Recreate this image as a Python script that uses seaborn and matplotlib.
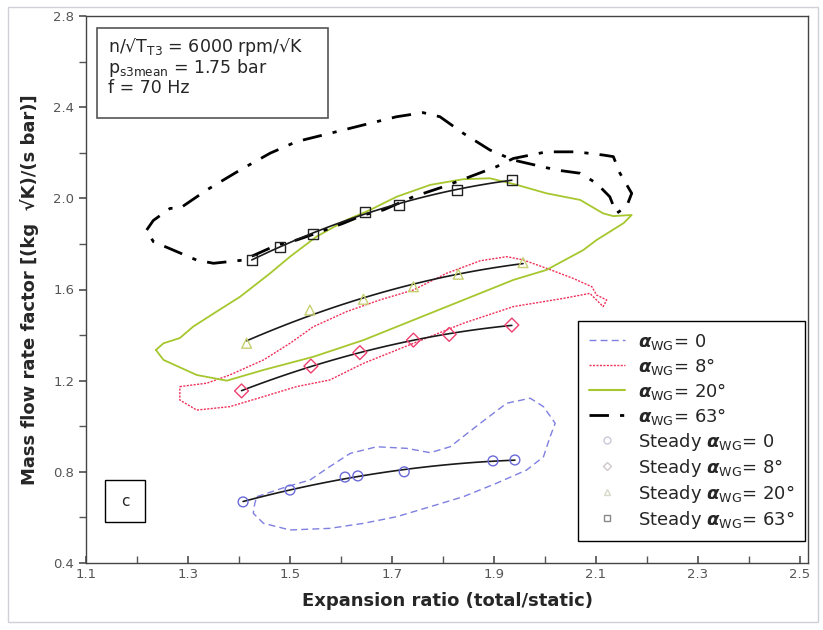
import numpy as np
import pandas as pd
import matplotlib
matplotlib.use("Agg")
import matplotlib.pyplot as plt
from matplotlib.patches import Rectangle
from matplotlib.lines import Line2D
import seaborn as sns

# ---------------- data ----------------
# unsteady loops (alpha_WG)
loop0_x = [1.435, 1.494, 1.539, 1.578, 1.618, 1.670, 1.729, 1.775, 1.814, 1.873, 1.925, 1.971, 1.997,
           2.020, 2.010, 1.997, 1.964, 1.905, 1.840, 1.775, 1.709, 1.644, 1.578, 1.500, 1.448, 1.428, 1.431, 1.435]
loop0_y = [0.691, 0.735, 0.764, 0.823, 0.881, 0.910, 0.903, 0.884, 0.910, 1.013, 1.101, 1.123, 1.086,
           1.013, 0.954, 0.866, 0.808, 0.750, 0.691, 0.647, 0.603, 0.574, 0.552, 0.545, 0.574, 0.618, 0.662, 0.691]

loop8_x = [1.284, 1.337, 1.382, 1.448, 1.500, 1.546, 1.611, 1.676, 1.742, 1.807, 1.873, 1.925, 1.957,
           2.003, 2.055, 2.092, 2.101, 2.121, 2.114, 2.088, 2.036, 1.938, 1.840, 1.742, 1.644, 1.578,
           1.513, 1.448, 1.382, 1.317, 1.284, 1.284]
loop8_y = [1.174, 1.189, 1.225, 1.291, 1.364, 1.437, 1.503, 1.554, 1.598, 1.671, 1.726, 1.744, 1.730,
           1.693, 1.649, 1.612, 1.576, 1.554, 1.525, 1.583, 1.561, 1.525, 1.452, 1.364, 1.276, 1.203,
           1.174, 1.130, 1.086, 1.071, 1.115, 1.174]

loop20_x = [1.237, 1.252, 1.284, 1.310, 1.356, 1.402, 1.461, 1.500, 1.552, 1.611, 1.657, 1.709, 1.775,
            1.840, 1.892, 1.945, 2.003, 2.069, 2.114, 2.134, 2.170, 2.154, 2.101, 2.075, 2.003, 1.938,
            1.840, 1.742, 1.644, 1.546, 1.448, 1.376, 1.317, 1.252, 1.237]
loop20_y = [1.335, 1.364, 1.387, 1.437, 1.503, 1.568, 1.671, 1.744, 1.832, 1.905, 1.949, 2.007, 2.059,
            2.084, 2.088, 2.059, 2.022, 1.993, 1.934, 1.922, 1.927, 1.891, 1.817, 1.773, 1.686, 1.642,
            1.554, 1.466, 1.378, 1.305, 1.247, 1.200, 1.225, 1.291, 1.335]

loop63_x = [1.219, 1.232, 1.265, 1.284, 1.337, 1.402, 1.461, 1.513, 1.578, 1.644, 1.709, 1.761, 1.794,
            1.840, 1.892, 1.938, 2.023, 2.069, 2.101, 2.127, 2.140, 2.160, 2.170, 2.147, 2.134, 2.114,
            2.062, 2.003, 1.938, 1.905, 1.853, 1.801, 1.742, 1.683, 1.644, 1.605, 1.552, 1.513, 1.474,
            1.408, 1.350, 1.317, 1.271, 1.232, 1.219]
loop63_y = [1.861, 1.903, 1.956, 1.956, 2.037, 2.124, 2.198, 2.249, 2.285, 2.322, 2.358, 2.376, 2.358,
            2.285, 2.212, 2.168, 2.124, 2.110, 2.066, 2.007, 1.934, 1.964, 2.022, 2.110, 2.183, 2.190,
            2.204, 2.204, 2.175, 2.139, 2.095, 2.051, 2.007, 1.949, 1.927, 1.891, 1.847, 1.817, 1.795,
            1.729, 1.715, 1.729, 1.773, 1.810, 1.861]

# steady points
steady0_x = [1.408, 1.500, 1.608, 1.633, 1.724, 1.898, 1.941]
steady0_y = [0.668, 0.720, 0.777, 0.782, 0.800, 0.848, 0.852]
steady8_x = [1.405, 1.541, 1.637, 1.742, 1.812, 1.935]
steady8_y = [1.155, 1.264, 1.323, 1.378, 1.403, 1.444]
steady20_x = [1.415, 1.539, 1.644, 1.742, 1.830, 1.957]
steady20_y = [1.364, 1.510, 1.557, 1.612, 1.667, 1.718]
steady63_x = [1.425, 1.480, 1.545, 1.647, 1.714, 1.827, 1.935]
steady63_y = [1.729, 1.788, 1.844, 1.941, 1.971, 2.037, 2.081]

x_ticks = [1.1, 1.3, 1.5, 1.7, 1.9, 2.1, 2.3, 2.5]
y_ticks = [0.4, 0.8, 1.2, 1.6, 2.0, 2.4, 2.8]

# ---------------- plot ----------------
sns.set_theme(style="ticks")
plt.rcParams['font.family'] = ['DejaVu Sans']

fig = plt.figure(figsize=(8.23, 6.30), dpi=100)
ax = fig.add_axes([86/823, 1-563/630, (808-86)/823, (563-16)/630])

loop_styles = [
    (loop0_x, loop0_y, "#7f7fe0", (0, (5, 3)), 1.0),
    (loop8_x, loop8_y, "#f0305a", (0, (1.5, 1)), 1.0),
    (loop20_x, loop20_y, "#a6c72e", "-", 1.3),
    (loop63_x, loop63_y, "black", (0, (7, 4, 1.5, 4)), 2.0),
]
for lx, ly, c, ls, lw in loop_styles:
    df = pd.DataFrame({"x": lx, "y": ly})
    sns.lineplot(data=df, x="x", y="y", sort=False, estimator=None, ax=ax,
                 color=c, linestyle=ls, linewidth=lw)

steady_styles = [
    (steady0_x, steady0_y, "o", "#6a6ad8"),
    (steady8_x, steady8_y, "D", "#ee4070"),
    (steady20_x, steady20_y, "^", "#c8d070"),
    (steady63_x, steady63_y, "s", "#222222"),
]
for sx, sy, m, c in steady_styles:
    coef = np.polyfit(sx, sy, 2)
    fx = np.linspace(min(sx), max(sx), 60)
    fdf = pd.DataFrame({"x": fx, "y": np.polyval(coef, fx)})
    sns.lineplot(data=fdf, x="x", y="y", ax=ax, color="#1a1a1a", linewidth=1.2)
    sdf = pd.DataFrame({"x": sx, "y": sy})
    sns.scatterplot(data=sdf, x="x", y="y", ax=ax, marker=m, s=50,
                    facecolors="none", edgecolors=c, linewidth=1.0, zorder=5)

ax.set_xlim(1.1, 1.1 + (808-86)/510)
ax.set_ylim(0.4, 2.8)
ax.set_xticks(x_ticks)
ax.set_xticklabels([f"{v:.1f}" for v in x_ticks])
ax.set_yticks(y_ticks)
ax.set_yticklabels([f"{v:.1f}" for v in y_ticks])
ax.set_xticks(np.arange(1.2, 2.5, 0.2), minor=True)
ax.set_yticks(np.arange(0.6, 2.8, 0.4), minor=True)
ax.tick_params(axis="both", which="major", labelsize=9.5, labelcolor="#555555", color="#555555")
ax.tick_params(axis="x", which="both", direction="in", length=5)
ax.tick_params(axis="y", which="both", direction="out", length=5)
ax.tick_params(axis="both", which="minor", color="#555555")
for sp in ax.spines.values():
    sp.set_visible(True)
    sp.set_color("#444444")
    sp.set_linewidth(1.0)

ax.set_xlabel("Expansion ratio (total/static)", fontsize=13, fontweight="bold", labelpad=8)
ax.set_ylabel("Mass flow rate factor [(kg  \u221aK)/(s bar)]", fontsize=13, fontweight="bold", labelpad=10)

# info box
ax.add_patch(Rectangle((0.0152, 0.8135), 0.32, 0.1645, transform=ax.transAxes,
                       fill=False, edgecolor="#555555", linewidth=1.2, zorder=6))
ax.text(0.030, 0.943, "n/\u221aT$_{\\mathrm{T3}}$ = 6000 rpm/\u221aK", transform=ax.transAxes,
        fontsize=12.5, va="center", ha="left")
ax.text(0.030, 0.905, "p$_{\\mathrm{s3mean}}$ = 1.75 bar", transform=ax.transAxes,
        fontsize=12.5, va="center", ha="left")
ax.text(0.030, 0.868, "f = 70 Hz", transform=ax.transAxes,
        fontsize=12.5, va="center", ha="left")

# "c" box
ax.add_patch(Rectangle((0.0263, 0.075), 0.0554, 0.0767, transform=ax.transAxes,
                       fill=False, edgecolor="black", linewidth=1.0, zorder=6))
ax.text(0.054, 0.113, "c", transform=ax.transAxes, fontsize=11, va="center", ha="center")

# legend
a = r"$\boldsymbol{\alpha}_{\mathrm{WG}}$"
handles = [
    Line2D([], [], color="#7f7fe0", linestyle=(0, (5, 3)), linewidth=1.0),
    Line2D([], [], color="#f0305a", linestyle=(0, (1.5, 1)), linewidth=1.0),
    Line2D([], [], color="#a6c72e", linestyle="-", linewidth=1.5),
    Line2D([], [], color="black", linestyle=(0, (7, 4, 1.5, 4)), linewidth=2.0),
    Line2D([], [], marker="o", linestyle="none", markerfacecolor="none", markeredgecolor="#c8c8d8", markersize=5),
    Line2D([], [], marker="D", linestyle="none", markerfacecolor="none", markeredgecolor="#d0c8c8", markersize=4),
    Line2D([], [], marker="^", linestyle="none", markerfacecolor="none", markeredgecolor="#d8d8c8", markersize=5),
    Line2D([], [], marker="s", linestyle="none", markerfacecolor="none", markeredgecolor="#888888", markersize=5),
]
labels = [a + "= 0", a + "= 8\u00b0", a + "= 20\u00b0", a + "= 63\u00b0",
          "Steady " + a + "= 0", "Steady " + a + "= 8\u00b0",
          "Steady " + a + "= 20\u00b0", "Steady " + a + "= 63\u00b0"]
leg = ax.legend(handles, labels, loc="upper left", bbox_to_anchor=(0.669, 0.459),
                fontsize=13, frameon=True, fancybox=False, edgecolor="black",
                handlelength=2.0, labelspacing=0.22, borderpad=0.6, handletextpad=0.7)
leg.get_frame().set_linewidth(1.0)
leg.get_frame().set_alpha(1.0)

# light outer frame
fig.patches.append(Rectangle((8/823, 8/630), 810/823, 615/630, transform=fig.transFigure,
                             fill=False, edgecolor="#d0d0d8", linewidth=1.0))

fig.savefig("out.png", dpi=100)
